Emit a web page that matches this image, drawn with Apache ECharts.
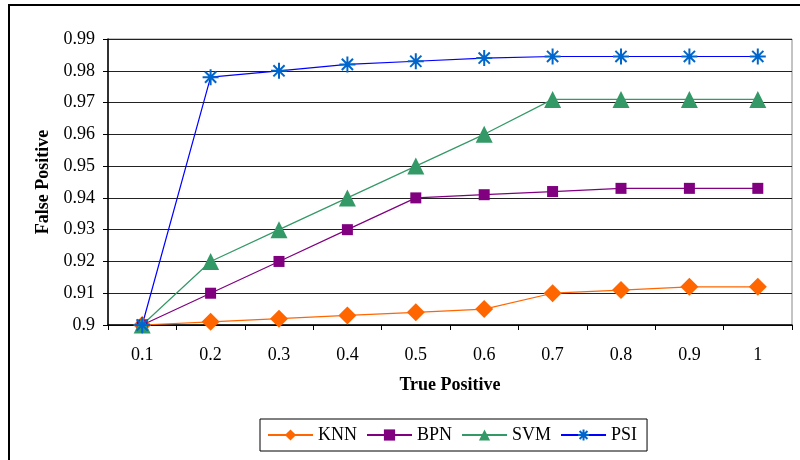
<!DOCTYPE html>
<html>
<head>
<meta charset="utf-8">
<script src="https://cdn.jsdelivr.net/npm/echarts@6/dist/echarts.min.js"></script>
<style>
  html, body { margin: 0; padding: 0; background: #fff; }
  #chart { width: 800px; height: 460px; }
</style>
</head>
<body>
<div id="chart"></div>
<script>
// data
const categories = ['0.1', '0.2', '0.3', '0.4', '0.5', '0.6', '0.7', '0.8', '0.9', '1']
const knn = [0.9, 0.901, 0.902, 0.903, 0.904, 0.905, 0.91, 0.911, 0.912, 0.912]
const bpn = [0.9, 0.91, 0.92, 0.93, 0.94, 0.941, 0.942, 0.943, 0.943, 0.943]
const svm = [0.9, 0.92, 0.93, 0.94, 0.95, 0.96, 0.971, 0.971, 0.971, 0.971]
const psi = [0.9, 0.978, 0.98, 0.982, 0.983, 0.984, 0.9845, 0.9845, 0.9845, 0.9845]

const serif = '"Liberation Serif", "DejaVu Serif", serif'

// asterisk marker for PSI
const starPath = 'path://M0,-10L0,10M-10,0L10,0M-7,-7L7,7M-7,7L7,-7'

const chart = echarts.init(document.getElementById('chart'))

function line(name, data, color, symbol, size, extra) {
  return Object.assign({
    name: name,
    type: 'line',
    data: data,
    symbol: symbol,
    symbolSize: size,
    lineStyle: { color: color, width: 1.2 },
    itemStyle: { color: color },
  }, extra || {})
}

chart.setOption({
  animation: false,
  graphic: [
    {
      type: 'rect',
      shape: { x: 9, y: 5, width: 900, height: 600 },
      style: { fill: 'none', stroke: '#000', lineWidth: 2 },
      z: -1,
    },
  ],
  grid: {
    left: 108,
    right: 8,
    top: 39,
    bottom: 135,
    show: true,
    borderColor: '#888',
    borderWidth: 1,
  },
  legend: {
    top: 419,
    left: 260,
    itemWidth: 45,
    itemHeight: 14,
    itemGap: 9,
    padding: [7, 10, 7, 7],
    borderColor: '#000',
    borderWidth: 1,
    borderRadius: 0,
    textStyle: { fontFamily: serif, fontSize: 18, color: '#000' },
    data: ['KNN', 'BPN', 'SVM', 'PSI'],
  },
  xAxis: {
    type: 'category',
    data: categories,
    boundaryGap: true,
    name: 'True Positive',
    nameLocation: 'middle',
    nameGap: 51,
    nameTextStyle: { fontFamily: serif, fontSize: 18, fontWeight: 'bold', color: '#000' },
    axisLine: { lineStyle: { color: '#000', width: 1.5 } },
    axisTick: { show: true, alignWithLabel: false, length: 5, lineStyle: { color: '#000' } },
    axisLabel: { fontFamily: serif, fontSize: 18, color: '#000', margin: 21 },
  },
  yAxis: {
    type: 'value',
    min: 0.9,
    max: 0.99,
    interval: 0.01,
    name: 'False Positive',
    nameLocation: 'middle',
    nameGap: 56,
    nameRotate: 90,
    nameTextStyle: { fontFamily: serif, fontSize: 18, fontWeight: 'bold', color: '#000' },
    axisLine: { show: true, lineStyle: { color: '#000', width: 1.5 } },
    axisTick: { show: true, length: 5, lineStyle: { color: '#000' } },
    axisLabel: {
      fontFamily: serif, fontSize: 18, color: '#000', margin: 13,
      formatter: function (v) { return String(Math.round(v * 100) / 100) },
    },
    splitLine: { show: true, lineStyle: { color: '#222', width: 1 } },
  },
  series: [
    line('KNN', knn, '#ff6600', 'diamond', 18),
    line('BPN', bpn, '#800080', 'rect', 11),
    line('SVM', svm, '#339966', 'triangle', 17),
    line('PSI', psi, '#0000ff', starPath, 16, {
      itemStyle: { color: '#0066cc', borderColor: '#0066cc', borderWidth: 2 },
    }),
  ],
})
</script>
</body>
</html>
